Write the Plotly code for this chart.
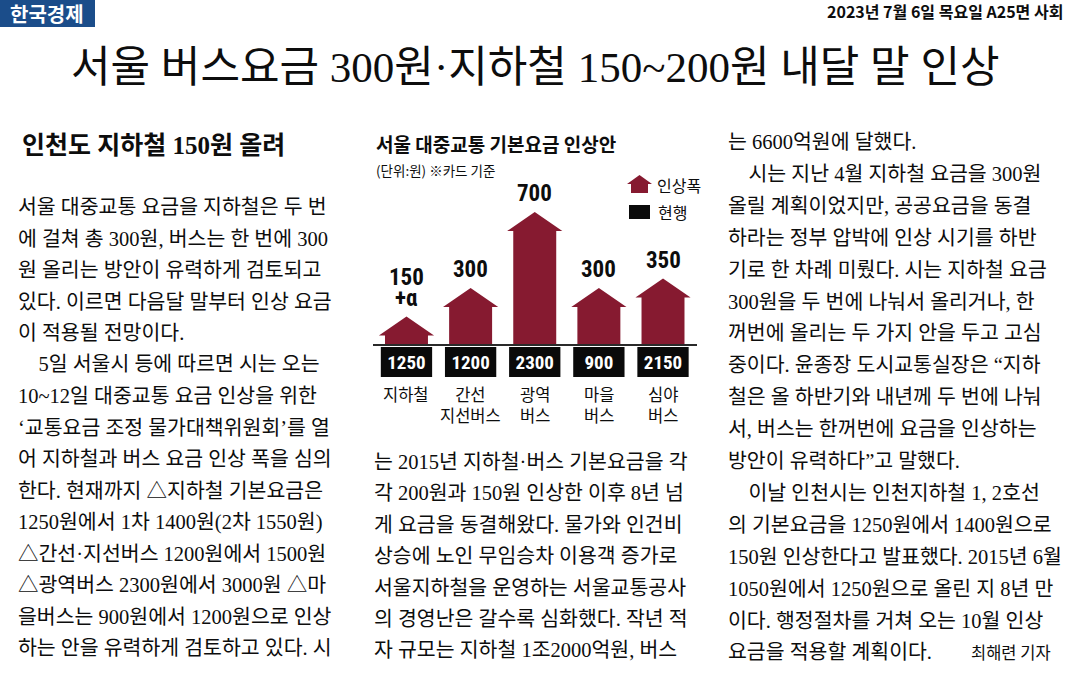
import plotly.graph_objects as go

W, H = 1069, 690

# ---------------- chart data ----------------
categories = ["지하철", "간선<br>지선버스", "광역<br>버스", "마을<br>버스", "심야<br>버스"]
increase = [150, 300, 700, 300, 350]            # 인상폭 (원)
increase_labels = [["150", "+α"], ["300"], ["700"], ["300"], ["350"]]
current_fare = [1250, 1200, 2300, 900, 2150]    # 현행 (원)

chart_title = "서울 대중교통 기본요금 인상안"
chart_unit = "(단위:원) ※카드 기준"
legend_rise = "인상폭"
legend_now = "현행"

# ---------------- page text ----------------
logo_text = "한국경제"
date_text = "2023년 7월 6일 목요일 A25면 사회"
headline = "서울 버스요금 300원·지하철 150~200원 내달 말 인상"
subhead = "인천도 지하철 150원 올려"
byline = "최해련 기자"

left_lines = [
    "서울 대중교통 요금을 지하철은 두 번",
    "에 걸쳐 총 300원, 버스는 한 번에 300",
    "원 올리는 방안이 유력하게 검토되고",
    "있다. 이르면 다음달 말부터 인상 요금",
    "이 적용될 전망이다.",
    "  5일 서울시 등에 따르면 시는 오는",
    "10~12일 대중교통 요금 인상을 위한",
    "‘교통요금 조정 물가대책위원회’를 열",
    "어 지하철과 버스 요금 인상 폭을 심의",
    "한다. 현재까지 △지하철 기본요금은",
    "1250원에서 1차 1400원(2차 1550원)",
    "△간선·지선버스 1200원에서 1500원",
    "△광역버스 2300원에서 3000원 △마",
    "을버스는 900원에서 1200원으로 인상",
    "하는 안을 유력하게 검토하고 있다. 시",
]
middle_lines = [
    "는 2015년 지하철·버스 기본요금을 각",
    "각 200원과 150원 인상한 이후 8년 넘",
    "게 요금을 동결해왔다. 물가와 인건비",
    "상승에 노인 무임승차 이용객 증가로",
    "서울지하철을 운영하는 서울교통공사",
    "의 경영난은 갈수록 심화했다. 작년 적",
    "자 규모는 지하철 1조2000억원, 버스",
]
right_lines = [
    "는 6600억원에 달했다.",
    "  시는 지난 4월 지하철 요금을 300원",
    "올릴 계획이었지만, 공공요금을 동결",
    "하라는 정부 압박에 인상 시기를 하반",
    "기로 한 차례 미뤘다. 시는 지하철 요금",
    "300원을 두 번에 나눠서 올리거나, 한",
    "꺼번에 올리는 두 가지 안을 두고 고심",
    "중이다. 윤종장 도시교통실장은 “지하",
    "철은 올 하반기와 내년께 두 번에 나눠",
    "서, 버스는 한꺼번에 요금을 인상하는",
    "방안이 유력하다”고 말했다.",
    "  이날 인천시는 인천지하철 1, 2호선",
    "의 기본요금을 1250원에서 1400원으로",
    "150원 인상한다고 발표했다. 2015년 6월",
    "1050원에서 1250원으로 올린 지 8년 만",
    "이다. 행정절차를 거쳐 오는 10월 인상",
    "요금을 적용할 계획이다.",
]

# ---------------- styles ----------------
KR = "Noto Sans CJK KR"
BODY = "Liberation Serif, Noto Sans CJK KR"
NUM = "Liberation Sans Narrow, Arial Narrow, Roboto Condensed, Liberation Sans, sans-serif"
MAROON = "#861a30"
INK = "#0d0d0d"


def px(x):
    return x / W


def py(y):
    return 1 - y / H


fig = go.Figure()

# arrows (house shapes) built from the increase values
HEAD = 100      # arrow head height in data units
HW, BW = 0.43, 0.335
for i, v in enumerate(increase):
    xs = [i - BW, i - BW, i - HW, i, i + HW, i + BW, i + BW, i - BW]
    ys = [0, v - HEAD, v - HEAD, v, v - HEAD, v - HEAD, 0, 0]
    fig.add_trace(go.Scatter(x=xs, y=ys, mode="lines", fill="toself",
                             fillcolor=MAROON, line=dict(width=0, color=MAROON),
                             hoverinfo="skip", showlegend=False))

# black boxes with current fare
BOX_TOP, BOX_H = -10.5, 158
fig.add_trace(go.Bar(
    x=list(range(len(current_fare))), y=[-BOX_H] * len(current_fare), base=BOX_TOP,
    width=0.80, marker=dict(color="#0a0a0a", line=dict(width=0)),
    text=[f"<b>{c}</b>" for c in current_fare], textposition="inside",
    insidetextanchor="middle", constraintext="none", textangle=0,
    textfont=dict(family=NUM, size=19, color="white"),
    hoverinfo="skip", showlegend=False))

ann = []
# value labels above arrows
for i, (v, lines) in enumerate(zip(increase, increase_labels)):
    for k, t in enumerate(reversed(lines)):
        ann.append(dict(x=i, y=v, xref="x", yref="y", text=f"<b>{t}</b>",
                        showarrow=False, yanchor="bottom", yshift=3 + 21 * k,
                        font=dict(family=NUM, size=23, color=INK)))
# category labels
for i, c in enumerate(categories):
    ann.append(dict(x=i, y=BOX_TOP - BOX_H, xref="x", yref="y", text=c,
                    showarrow=False, yanchor="top", yshift=-3,
                    font=dict(family=KR, size=16.5, color=INK)))

# chart title and unit
ann.append(dict(x=px(374), y=py(143), xref="paper", yref="paper", text=f"<b>{chart_title}</b>",
                showarrow=False, xanchor="left", yanchor="middle",
                font=dict(family=KR, size=19, color=INK)))
ann.append(dict(x=px(374), y=py(170), xref="paper", yref="paper", text=chart_unit,
                showarrow=False, xanchor="left", yanchor="middle",
                font=dict(family=KR, size=13.5, color=INK)))
# legend texts
ann.append(dict(x=px(655), y=py(185), xref="paper", yref="paper", text=legend_rise,
                showarrow=False, xanchor="left", yanchor="middle",
                font=dict(family=KR, size=16, color=INK)))
ann.append(dict(x=px(656), y=py(212), xref="paper", yref="paper", text=legend_now,
                showarrow=False, xanchor="left", yanchor="middle",
                font=dict(family=KR, size=16, color=INK)))

# page header
ann.append(dict(x=px(47), y=py(14), xref="paper", yref="paper", text=f"<b>{logo_text}</b>",
                showarrow=False, xanchor="center", yanchor="middle",
                font=dict(family=KR, size=20, color="white")))
ann.append(dict(x=px(1065), y=py(11), xref="paper", yref="paper", text=f"<b>{date_text}</b>",
                showarrow=False, xanchor="right", yanchor="middle",
                font=dict(family=KR, size=16, color=INK)))
ann.append(dict(x=px(535), y=py(68), xref="paper", yref="paper", text=headline,
                showarrow=False, xanchor="center", yanchor="middle",
                font=dict(family=BODY, size=43, color=INK)))
ann.append(dict(x=px(20), y=py(146), xref="paper", yref="paper", text=f"<b>{subhead}</b>",
                showarrow=False, xanchor="left", yanchor="middle",
                font=dict(family=BODY, size=25, color=INK)))


def column(lines, x0, y0, step):
    for k, t in enumerate(lines):
        ann.append(dict(x=px(x0), y=py(y0 + step * k), xref="paper", yref="paper",
                        text=t.replace("  ", "\u2003", 1) if t.startswith("  ") else t,
                        showarrow=False, xanchor="left", yanchor="middle",
                        font=dict(family=BODY, size=20.5, color=INK)))


column(left_lines, 16, 207, 31.5)
column(middle_lines, 372, 462, 31.4)
column(right_lines, 726, 142, 31.9)

ann.append(dict(x=px(1053), y=py(142 + 31.9 * 16), xref="paper", yref="paper", text=byline,
                showarrow=False, xanchor="right", yanchor="middle",
                font=dict(family=KR, size=16.5, color=INK)))

shapes = [
    # logo box
    dict(type="rect", xref="paper", yref="paper", x0=0, x1=px(95), y0=py(27), y1=py(0),
         fillcolor="#1b4d8a", line=dict(width=0), layer="below"),
    # baseline
    dict(type="line", xref="x domain", yref="y", x0=0, x1=1, y0=0, y1=0,
         line=dict(color="#2a2a2a", width=2)),
    # legend icons
    dict(type="path", xref="paper", yref="paper",
         path=(f"M {px(631)} {py(193)} L {px(631)} {py(184)} L {px(627)} {py(184)} "
               f"L {px(639.5)} {py(175)} L {px(652)} {py(184)} L {px(648)} {py(184)} "
               f"L {px(648)} {py(193)} Z"),
         fillcolor=MAROON, line=dict(width=0)),
    dict(type="rect", xref="paper", yref="paper", x0=px(629), x1=px(650), y0=py(219), y1=py(205),
         fillcolor="#0a0a0a", line=dict(width=0)),
]

fig.update_layout(
    width=W, height=H, autosize=False,
    margin=dict(l=0, r=0, t=0, b=0),
    paper_bgcolor="white", plot_bgcolor="rgba(0,0,0,0)",
    showlegend=False, barmode="overlay",
    xaxis=dict(domain=[px(373), px(697)], range=[-0.522, 4.530], visible=False, fixedrange=True),
    yaxis=dict(domain=[py(380), py(180)], range=[-184.2, 868.4], visible=False, fixedrange=True),
    annotations=ann, shapes=shapes,
    font=dict(family=KR, color=INK),
)

fig.write_html("out.html", config={"displayModeBar": False},
               post_script="document.body.style.margin='0px';document.body.style.overflow='hidden';")
